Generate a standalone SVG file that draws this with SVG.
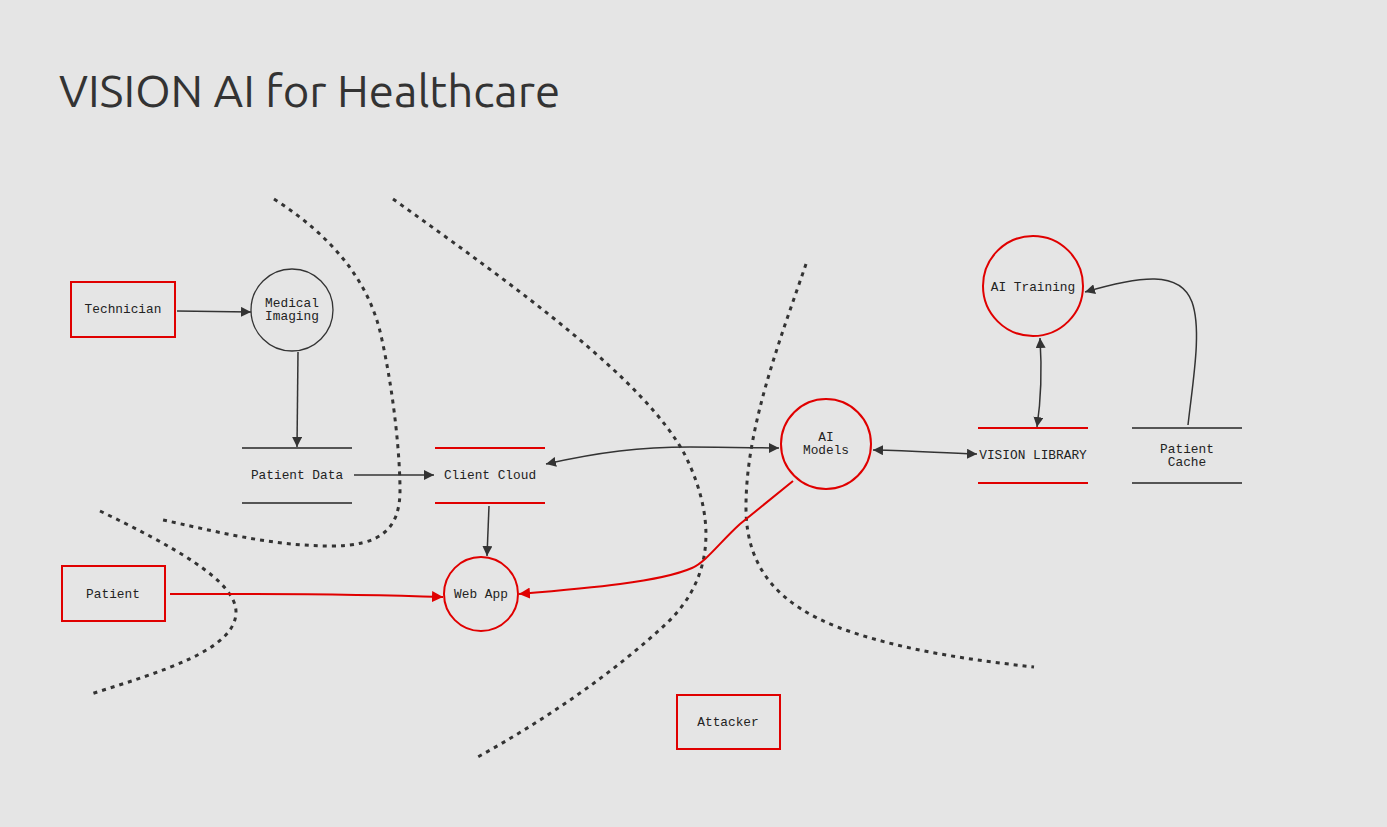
<svg xmlns="http://www.w3.org/2000/svg" width="1387" height="827" viewBox="0 0 1387 827">
<defs>
<style>
.bg{fill:#e5e5e5}
.title{font-family:Ubuntu,"Open Sans","Noto Sans",sans-serif;font-size:45.6px;fill:#333}
.lbl{font-family:"Liberation Mono","DejaVu Sans Mono",monospace;font-size:12.8px;fill:#222;text-anchor:middle}
.rbox{fill:none;stroke:#e00000;stroke-width:2}
.rcirc{fill:none;stroke:#e00000;stroke-width:2}
.dcirc{fill:none;stroke:#333;stroke-width:1.3}
.rline{stroke:#e00000;stroke-width:2}
.dline{stroke:#555;stroke-width:2}
.dash{fill:none;stroke:#333;stroke-width:3;stroke-dasharray:4 5}
.flow{fill:none;stroke:#333;stroke-width:1.5}
.rflow{fill:none;stroke:#e00000;stroke-width:2}
</style>
<marker id="ad" viewBox="0 0 10 10" refX="10" refY="5" markerWidth="10" markerHeight="10" markerUnits="userSpaceOnUse" orient="auto-start-reverse"><path d="M0,0 L10,5 L0,10 z" fill="#333"/></marker>
<marker id="ar" viewBox="0 0 10 10" refX="10" refY="5" markerWidth="11" markerHeight="11" markerUnits="userSpaceOnUse" orient="auto-start-reverse"><path d="M0,0 L10,5 L0,10 z" fill="#e00000"/></marker>
</defs>
<rect class="bg" x="0" y="0" width="1387" height="827"/>
<text class="title" x="59" y="107">VISION AI for Healthcare</text>

<g id="boundaries">
<path class="dash" d="M274,199 C330,235 370,280 382,340 C395,400 400,460 400,490 C400,530 380,546 330,546 C270,546 210,530 163,520"/>
<path class="dash" d="M100,511 C170,545 236,580 236,612 C236,650 160,672 91,694"/>
<path class="dash" d="M393,199 C520,290 645,380 685,455 C722,530 706,585 668,622 C615,672 545,720 476,758"/>
<path class="dash" d="M806,264 C780,340 745,430 746,510 C747,570 780,605 840,628 C900,650 970,660 1034,667"/>
</g>

<g id="connectors">
<path class="flow" marker-end="url(#ad)" d="M177,311 L251,312"/>
<path class="flow" marker-end="url(#ad)" d="M298,352 L297,447"/>
<path class="flow" marker-end="url(#ad)" d="M354,475 L434,475"/>
<path class="flow" marker-end="url(#ad)" d="M489,506 L487,556"/>
<path class="flow" marker-start="url(#ad)" marker-end="url(#ad)" d="M546,464 C600,452 640,447 690,447 C730,447 760,448 779,448"/>
<path class="flow" marker-start="url(#ad)" marker-end="url(#ad)" d="M873,450 C920,451 940,453 977,454"/>
<path class="flow" marker-start="url(#ad)" marker-end="url(#ad)" d="M1040,338 C1042,370 1041,400 1037,427"/>
<path class="flow" marker-end="url(#ad)" d="M1188,425 C1193,380 1202,330 1192,302 C1180,270 1140,276 1085,292"/>
<path class="rflow" marker-end="url(#ar)" d="M170,594 C250,594 330,593 443,597"/>
<path class="rflow" marker-end="url(#ar)" d="M793,481 L740,524 C720,542 706,562 692,568 C660,582 590,588 519,594"/>
</g>

<g id="technician">
<rect class="rbox" x="71" y="282" width="104" height="55"/>
<text class="lbl" x="123" y="313">Technician</text>
</g>
<g id="medical-imaging">
<circle class="dcirc" cx="292" cy="310" r="41"/>
<text class="lbl" x="292" y="307">Medical</text>
<text class="lbl" x="292" y="320">Imaging</text>
</g>
<g id="patient-data">
<line class="dline" x1="242" y1="448" x2="352" y2="448"/>
<line class="dline" x1="242" y1="503" x2="352" y2="503"/>
<text class="lbl" x="297" y="479">Patient Data</text>
</g>
<g id="client-cloud">
<line class="rline" x1="435" y1="448" x2="545" y2="448"/>
<line class="rline" x1="435" y1="503" x2="545" y2="503"/>
<text class="lbl" x="490" y="479">Client Cloud</text>
</g>
<g id="web-app">
<circle class="rcirc" cx="481" cy="594" r="37"/>
<text class="lbl" x="481" y="598">Web App</text>
</g>
<g id="patient">
<rect class="rbox" x="62" y="566" width="103" height="55"/>
<text class="lbl" x="113" y="598">Patient</text>
</g>
<g id="ai-models">
<circle class="rcirc" cx="826" cy="444" r="45"/>
<text class="lbl" x="826" y="441">AI</text>
<text class="lbl" x="826" y="454">Models</text>
</g>
<g id="vision-library">
<line class="rline" x1="978" y1="428" x2="1088" y2="428"/>
<line class="rline" x1="978" y1="483" x2="1088" y2="483"/>
<text class="lbl" x="1033" y="459">VISION LIBRARY</text>
</g>
<g id="ai-training">
<circle class="rcirc" cx="1033" cy="286" r="50"/>
<text class="lbl" x="1033" y="291">AI Training</text>
</g>
<g id="patient-cache">
<line class="dline" x1="1132" y1="428" x2="1242" y2="428"/>
<line class="dline" x1="1132" y1="483" x2="1242" y2="483"/>
<text class="lbl" x="1187" y="453">Patient</text>
<text class="lbl" x="1187" y="466">Cache</text>
</g>
<g id="attacker">
<rect class="rbox" x="677" y="695" width="103" height="54"/>
<text class="lbl" x="728" y="726">Attacker</text>
</g>
</svg>
